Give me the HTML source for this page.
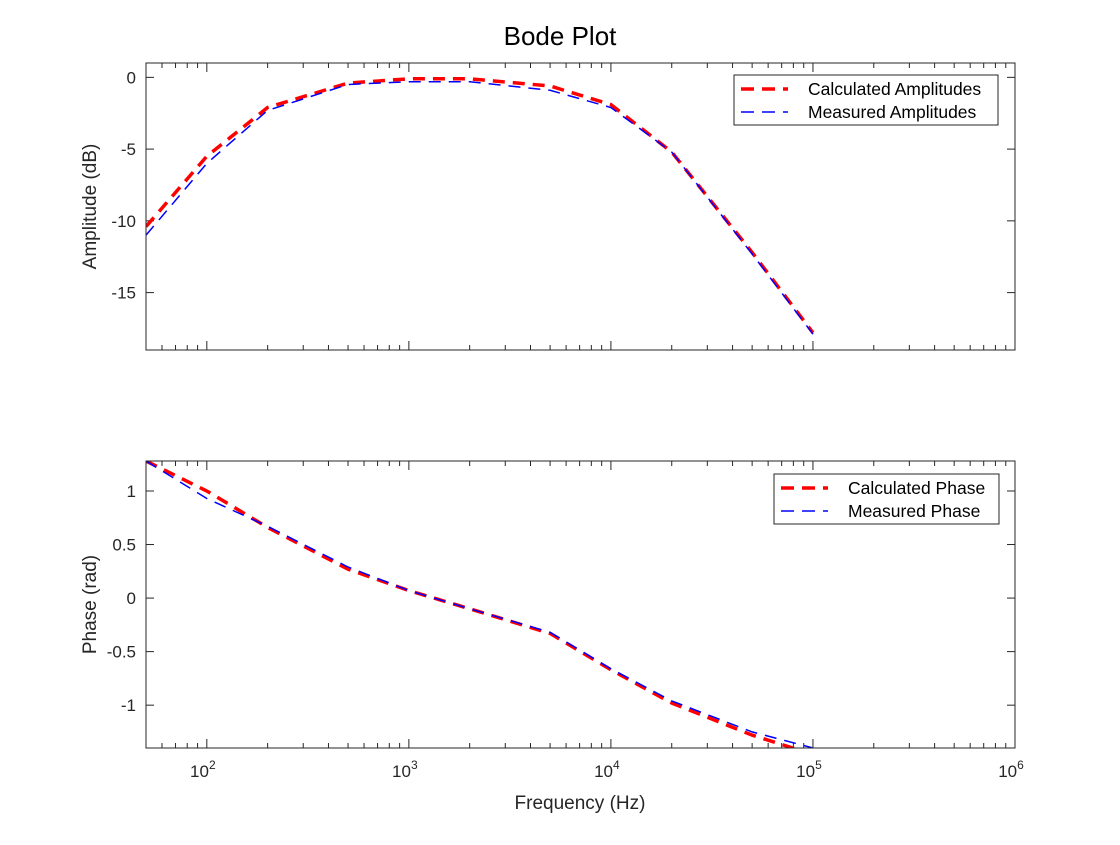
<!DOCTYPE html>
<html><head><meta charset="utf-8"><style>
body{margin:0;background:#fff;}
svg{font-family:"Liberation Sans",sans-serif;}
</style></head><body>
<svg id="c" width="1120" height="840" viewBox="0 0 1120 840">
<rect width="1120" height="840" fill="#fff"/>
<text x="560" y="45" font-size="26" text-anchor="middle">Bode Plot</text>
</svg>
<script>
const freqs=[50,100,200,500,1000,2000,5000,10000,20000,50000,100000];
const ampCalc=[-10.4,-5.5,-2.1,-0.4,-0.1,-0.1,-0.6,-1.9,-5.2,-12.2,-17.8];
const ampMeas=[-11.0,-6.0,-2.3,-0.5,-0.3,-0.3,-0.9,-2.1,-5.2,-12.3,-17.9];
const phCalc=[1.28,1.0,0.66,0.27,0.07,-0.1,-0.33,-0.67,-0.98,-1.28,-1.46];
const phMeas=[1.28,0.93,0.67,0.29,0.07,-0.1,-0.32,-0.66,-0.96,-1.25,-1.40];
const ampTicks=[0,-5,-10,-15];
const phTicks=[1,0.5,0,-0.5,-1];
const xDecades=[2,3,4,5,6];
const NS='http://www.w3.org/2000/svg';
const svg=document.getElementById('c');
const L=146,R=1015;
const xmin=Math.log10(50),xmax=6;
function xs(f){return L+(Math.log10(f)-xmin)/(xmax-xmin)*(R-L);}
function mk(t,a,p){const e=document.createElementNS(NS,t);for(const k in a)e.setAttribute(k,a[k]);(p||svg).appendChild(e);return e;}
function panel(name,top,bot,ymin,ymax,ticks,c1,c2,l1,l2,ylabel,fmt,legX,legY,legW){
  const g=mk('g',{});
  
  
  const ys=v=>bot-(v-ymin)/(ymax-ymin)*(bot-top);
  const cid='clip'+name;
  const cp=mk('clipPath',{id:cid},g);mk('rect',{x:L,y:top,width:R-L,height:bot-top},cp);
  ticks.forEach(v=>{const y=ys(v);
    mk('line',{x1:L,x2:L+8,y1:y,y2:y,stroke:'#262626'},g);
    mk('line',{x1:R-8,x2:R,y1:y,y2:y,stroke:'#262626'},g);
    const t=mk('text',{x:L-10,y:y+6,'font-size':17,'text-anchor':'end',fill:'#262626'},g);t.textContent=fmt(v);
    
    
  });
  for(let d=1;d<6;d++)for(let m=1;m<10;m++){const f=m*Math.pow(10,d);if(f<50)continue;const x=xs(f);const len=m==1?9:5;
    mk('line',{x1:x,x2:x,y1:bot,y2:bot-len,stroke:'#262626'},g);
    mk('line',{x1:x,x2:x,y1:top,y2:top+len,stroke:'#262626'},g);}
  mk('line',{x1:xs(1e6),x2:xs(1e6),y1:bot,y2:bot-9,stroke:'#262626'},g);
  const series=[[c1,'#ff0000',3.5,'12,8',name+'-calculated-line'],[c2,'#0000ff',1.5,'12,8',name+'-measured-line']];
  series.forEach(s=>{const pts=freqs.map((f,i)=>xs(f).toFixed(1)+','+ys(s[0][i]).toFixed(1)).join(' ');
    const pl=mk('polyline',{points:pts,fill:'none',stroke:s[1],'stroke-width':s[2],'stroke-dasharray':s[3],'clip-path':'url(#'+cid+')'},g);
    
    });
  mk('rect',{x:L,y:top,width:R-L,height:bot-top,fill:'none',stroke:'#262626'},g);
  const yl=mk('text',{x:0,y:0,'font-size':19,'text-anchor':'middle',fill:'#262626',transform:'translate(96,'+((top+bot)/2)+') rotate(-90)'},g);yl.textContent=ylabel;
  
  
  const lg=mk('g',{},g);
  
  
  mk('rect',{x:legX,y:legY,width:legW,height:50,fill:'#fff',stroke:'#262626'},lg);
  [[l1,'#ff0000',3.5],[l2,'#0000ff',1.5]].forEach((e,i)=>{const y=legY+14+i*23;
    mk('line',{x1:legX+7,x2:legX+54,y1:y,y2:y,stroke:e[1],'stroke-width':e[2],'stroke-dasharray':'13,8'},lg);
    const t=mk('text',{x:legX+74,y:y+6,'font-size':17.5,fill:'#000'},lg);t.textContent=e[0];
    
    });
}
panel('amplitude-panel',63,350,-19,1,ampTicks,ampCalc,ampMeas,'Calculated Amplitudes','Measured Amplitudes','Amplitude (dB)',v=>String(v),734,75,264);
panel('phase-panel',461,748,-1.40,1.28,phTicks,phCalc,phMeas,'Calculated Phase','Measured Phase','Phase (rad)',v=>String(v),774,474,225);
xDecades.forEach(d=>{const x=xs(Math.pow(10,d));const t=mk('text',{x:x-4,y:777,'font-size':17,'text-anchor':'middle',fill:'#262626'});
  
  
  t.appendChild(document.createTextNode('10'));const s=mk('tspan',{dy:-8,'font-size':12},t);s.textContent=d;});
const xt=mk('text',{x:580,y:809,'font-size':19,'text-anchor':'middle',fill:'#262626'});xt.textContent='Frequency (Hz)';


</script>
</body></html>
